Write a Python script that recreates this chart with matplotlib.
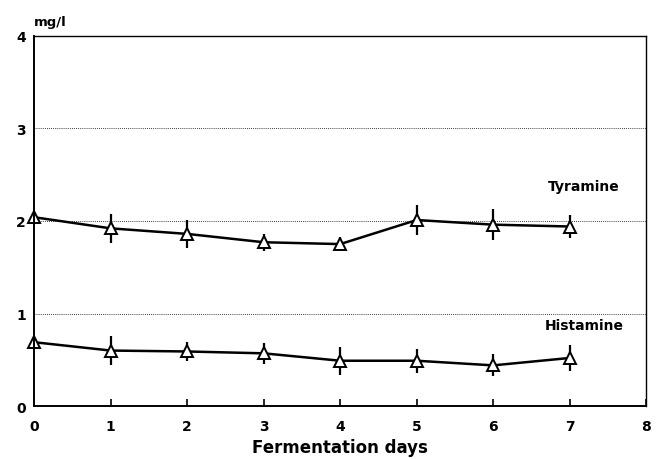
import numpy as np
import matplotlib.pyplot as plt

# Fermentation days
days = np.arange(0, 8)

# Tyramine (mg/l) and error
tyramine = np.array([2.04, 1.92, 1.86, 1.77, 1.75, 2.01, 1.96, 1.94])
tyramine_err = np.array([0.0, 0.16, 0.15, 0.09, 0.08, 0.16, 0.17, 0.12])

# Histamine (mg/l) and error
histamine = np.array([0.69, 0.60, 0.59, 0.57, 0.49, 0.49, 0.44, 0.52])
histamine_err = np.array([0.0, 0.16, 0.10, 0.11, 0.15, 0.13, 0.12, 0.14])

plt.rcParams['font.family'] = ['DejaVu Sans']

fig = plt.figure(figsize=(6.58, 4.6), dpi=100)
ax = fig.add_axes([0.052, 0.115, 0.930, 0.805])

for y, e in [(tyramine, tyramine_err), (histamine, histamine_err)]:
    ax.errorbar(days, y, yerr=e, color='black', lw=1.8, elinewidth=1.6,
                capsize=0, marker='^', ms=8, mfc='white', mec='black', mew=1.4,
                clip_on=False)

ax.set_xlim(0, 8)
ax.set_ylim(0, 4)
ax.set_xticks(range(0, 9))
ax.set_yticks(range(0, 5))
for yy in [1, 2, 3]:
    ax.axhline(yy, color='black', lw=0.6, ls=(0, (1, 1.5)), zorder=0)

ax.tick_params(axis='x', direction='in', length=5, width=1.2, pad=9, labelsize=10)
ax.tick_params(axis='y', direction='in', length=0, pad=6, labelsize=10)
for lab in ax.get_xticklabels() + ax.get_yticklabels():
    lab.set_fontweight('bold')
for s in ['left', 'bottom']:
    ax.spines[s].set_linewidth(1.4)
for s in ['top', 'right']:
    ax.spines[s].set_linewidth(1.0)

ax.text(6.72, 2.33, 'Tyramine', fontsize=10, fontweight='bold')
ax.text(6.68, 0.83, 'Histamine', fontsize=10, fontweight='bold')
ax.text(0.0, 4.12, 'mg/l', fontsize=9.5, fontweight='bold')
ax.set_xlabel('Fermentation days', fontsize=12, fontweight='bold', labelpad=4)

fig.savefig('out.png', dpi=100)
